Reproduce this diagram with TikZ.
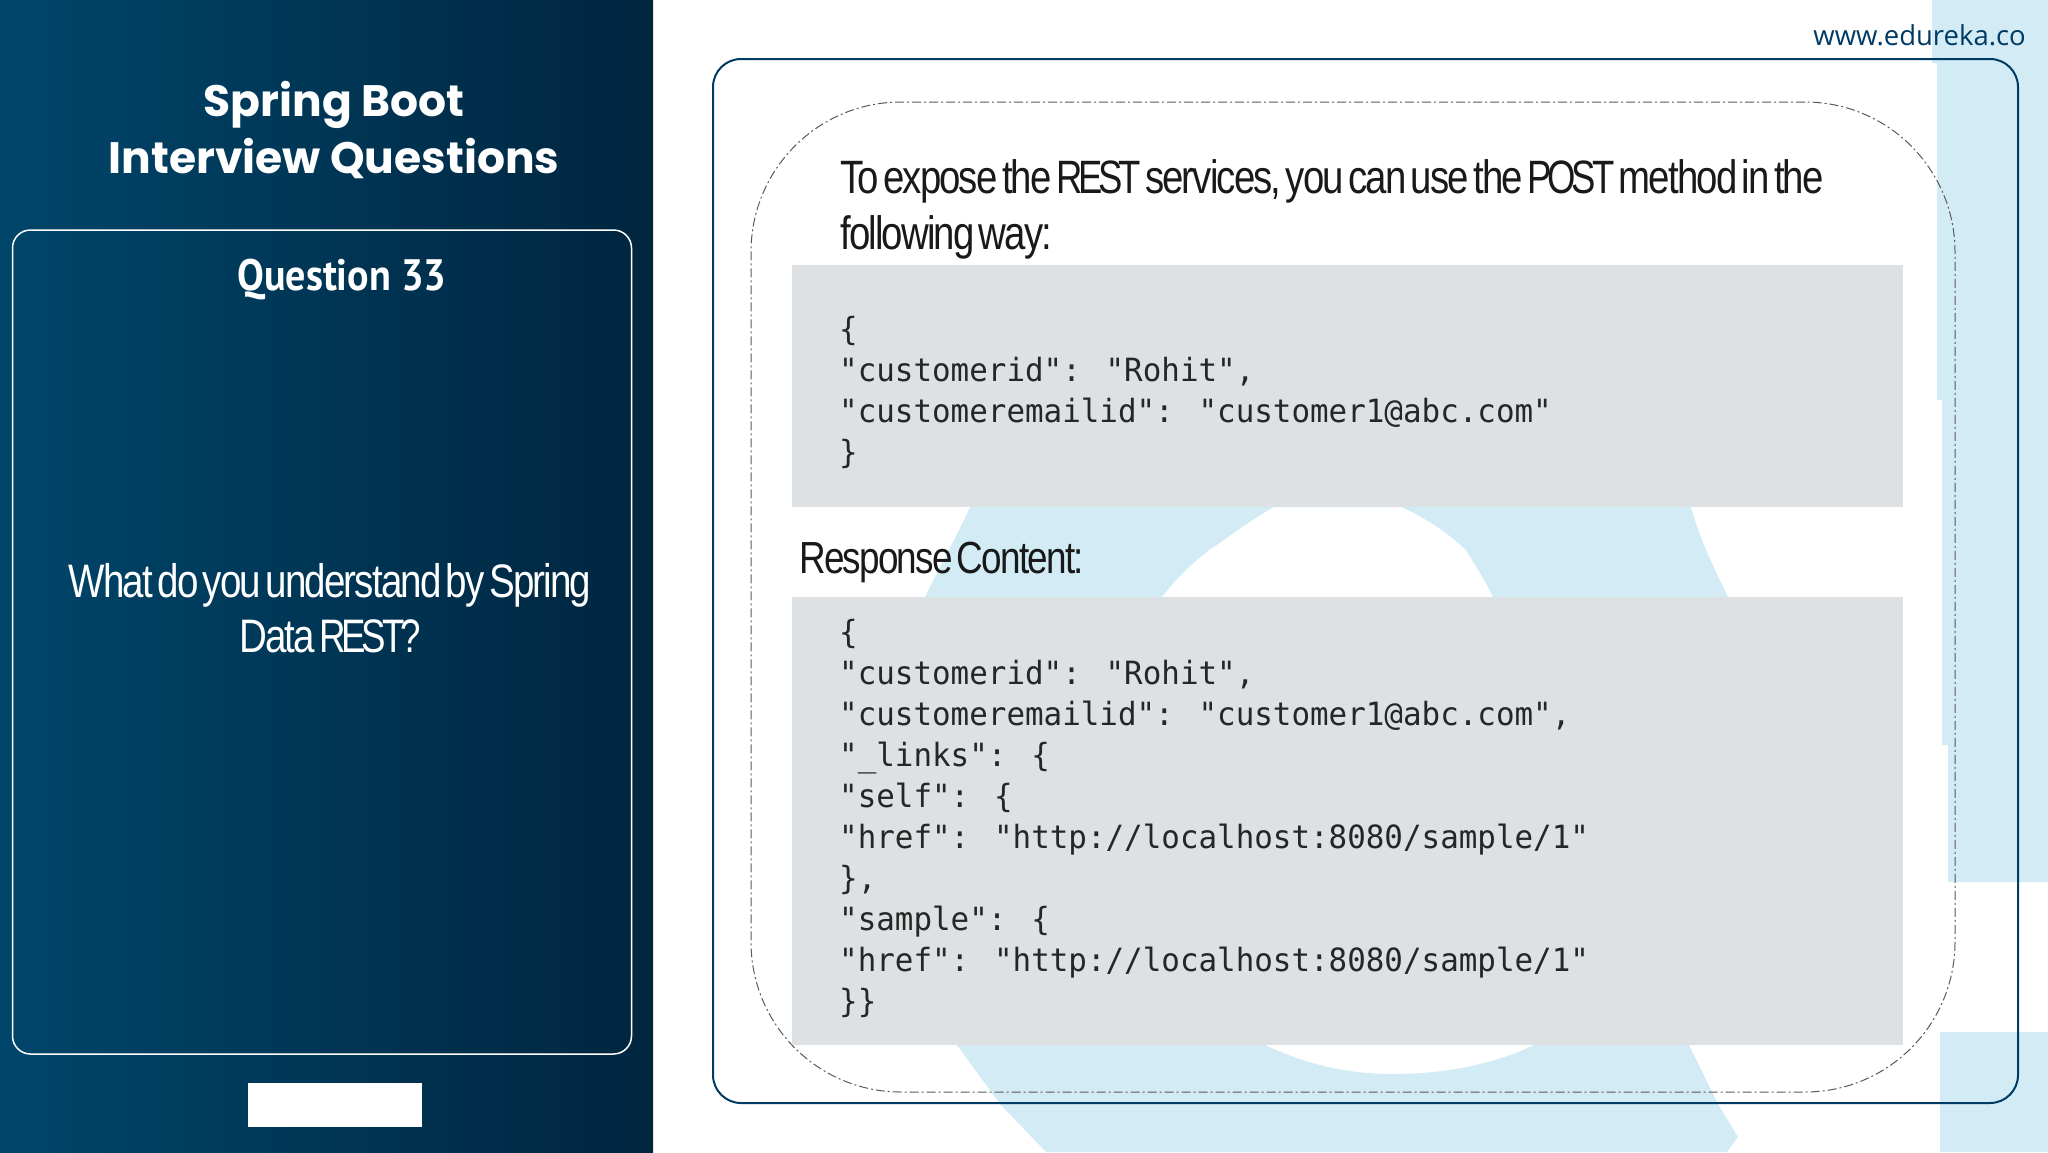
\documentclass[tikz,border=0pt]{standalone}
\usepackage{fontspec}
\setmainfont{Liberation Sans}
\newfontfamily\titlefont{Poppins}
\newfontfamily\qfont[FakeStretch=0.91]{PT Sans}
\newfontfamily\bodyfont[FakeStretch=0.82,LetterSpace=-4,WordSpace=0.5]{Liberation Sans}
\newfontfamily\capsfont[FakeStretch=0.78,LetterSpace=-9]{Liberation Sans}
\newfontfamily\codefont[FakeStretch=0.965]{DejaVu Sans Mono}
\newfontfamily\urlfont{Open Sans}
\usetikzlibrary{shapes.geometric, arrows}
\definecolor{panelleft}{HTML}{00466B}
\definecolor{panelright}{HTML}{00253F}
\definecolor{bgblue}{HTML}{D2EBF5}
\definecolor{codegrey}{HTML}{DDE1E3}
\definecolor{boxblue}{HTML}{003B64}
\tikzstyle{panel} = [rectangle, minimum width=653pt, minimum height=1152pt, inner sep=0pt, left color=panelleft, right color=panelright]
\tikzstyle{qbox} = [rectangle, rounded corners=18pt, minimum width=619pt, minimum height=824pt, inner sep=0pt, draw=white, line width=1.5pt]
\tikzstyle{blank} = [rectangle, minimum width=174pt, minimum height=44pt, inner sep=0pt, fill=white]
\tikzstyle{mainbox} = [rectangle, rounded corners=28pt, minimum width=1305pt, minimum height=1044pt, inner sep=0pt, draw=boxblue, line width=2pt]
\tikzstyle{dashbox} = [rectangle, rounded corners=150pt, minimum width=1204pt, minimum height=990pt, inner sep=0pt, draw=black!65, line width=1pt, dash pattern=on 9pt off 3pt on 2pt off 3pt]
\tikzstyle{codebg} = [rectangle, minimum width=1111pt, inner sep=0pt, fill=codegrey]
\tikzstyle{title} = [text=white, align=center, font=\titlefont\bfseries\fontsize{44}{57}\selectfont]
\tikzstyle{qtext} = [text=white, align=center, font=\qfont\bfseries\fontsize{44}{55}\selectfont]
\tikzstyle{body} = [text=black!90, align=left, anchor=west, inner sep=0pt, font=\bodyfont\fontsize{46.8}{56}\selectfont]
\tikzstyle{code} = [text=black!85, align=left, anchor=west, inner sep=0pt, font=\codefont\fontsize{32}{41}\selectfont]
\begin{document}
\begin{tikzpicture}[x=1pt, y=-1pt]
	\useasboundingbox (0,0) rectangle (2048,1152);
	% background
	\fill [bgblue] (1932,0) -- (2048,0) -- (2048,882) -- (1948,882) -- (1948,745) -- (1942,745) -- (1942,400) -- (1937,400) -- (1937,63) -- (1932,63) -- cycle;
	\fill [bgblue] (1940,1032) rectangle (2048,1152);
	\fill [bgblue, even odd rule] (970,507) .. controls (955,540) and (938,570) .. (925,597) -- (957,1045) -- (1000,1104) -- (1046,1152) -- (1727,1152) -- (1738,1137) -- (1718,1104) -- (1689,1045) -- (1728,597) .. controls (1715,570) and (1700,540) .. (1691,507) -- cycle
		(1274,507) .. controls (1250,520) and (1225,540) .. (1209,550) .. controls (1190,565) and (1175,580) .. (1162,597) -- (1265,1045) .. controls (1310,1066) and (1350,1074) .. (1394,1074) .. controls (1440,1074) and (1490,1066) .. (1534,1045) -- (1493,597) .. controls (1485,580) and (1475,565) .. (1466,550) .. controls (1445,530) and (1420,515) .. (1401,507) -- cycle;
	% left side
	\node (panel) [panel] at (326.5,576) {};
	\node (qbox) [qbox] at (322,642) {};
	\node (blank) [blank] at (335,1105) {};
	\node (heading) [title] at (334,130) {Spring Boot\\Interview Questions};
	\node (qnum) [qtext] at (342,280) {Question 33};
	\node (qtxt) [qtext, font=\bodyfont\fontsize{47}{55}\selectfont] at (330,608) {What do you understand by Spring\\Data {\capsfont REST?}};
	% right side
	\node (mainbox) [mainbox] at (1365.5,581) {};
	\node (dashbox) [dashbox] at (1353,597) {};
	\node (bg1) [codebg, minimum height=242pt] at (1347.5,386) {};
	\node (bg2) [codebg, minimum height=448pt] at (1347.5,821) {};
	\node (intro) [body] at (840,209) {To expose the {\capsfont REST} services, you can use the {\capsfont POST} method in the\\following way:};
	\node (resp) [body, font=\bodyfont\fontsize{45}{56}\selectfont] at (799,562) {Response Content:};
	\node (code1) [code] at (839,392.5) {\{\\"customerid": "Rohit",\\"customeremailid": "customer1@abc.com"\\\}};
	\node (code2) [code] at (839,818) {\{\\"customerid": "Rohit",\\"customeremailid": "customer1@abc.com",\\"\_links": \{\\"self": \{\\"href": "http://localhost:8080/sample/1"\\\},\\"sample": \{\\"href": "http://localhost:8080/sample/1"\\\}\}};
	\node (url) [anchor=base east, text=boxblue, inner sep=0pt, font=\urlfont\fontsize{27.5}{32}\selectfont] at (2026,45) {www.edureka.co};
\end{tikzpicture}
\end{document}
